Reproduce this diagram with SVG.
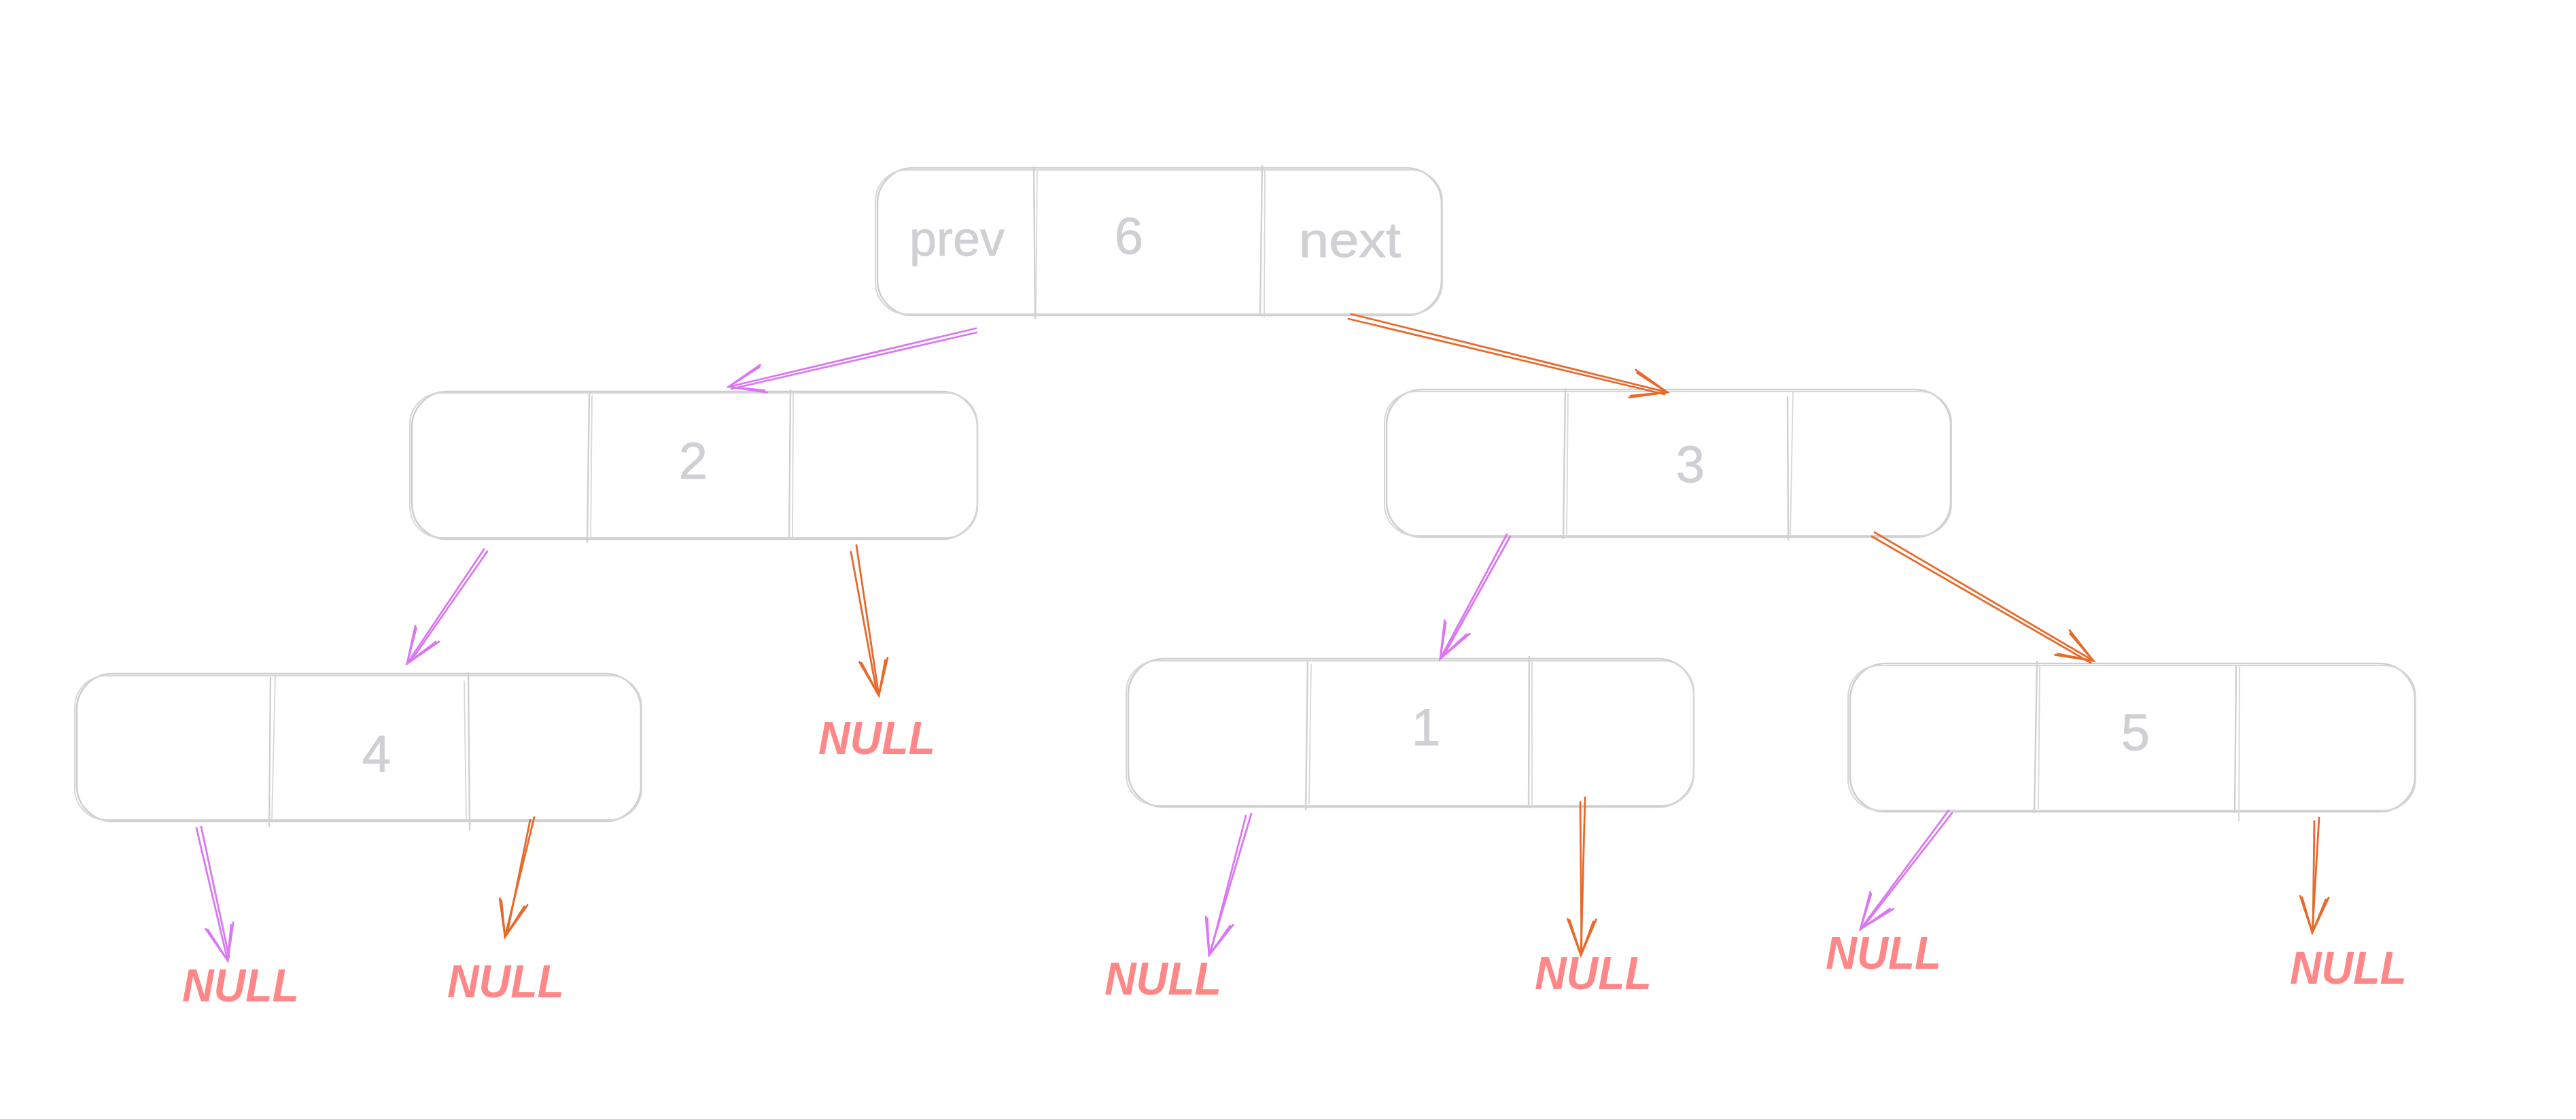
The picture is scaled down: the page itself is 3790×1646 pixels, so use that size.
<svg xmlns="http://www.w3.org/2000/svg" width="3790" height="1646" viewBox="0 0 3790 1646">
<style>
.bg{fill:#ffffff}
.box{fill:none;stroke:#cfcfcf;stroke-width:2.6}
.box2{fill:none;stroke:#d7d7d7;stroke-width:2}
.dv{stroke:#d0d0d0;stroke-width:2.4}
.dv2{stroke:#d8d8d8;stroke-width:1.8}
.val{font-family:"Liberation Sans",Arial,sans-serif;font-size:76px;fill:#d0cfd3;stroke:#d0cfd3;stroke-width:0.8;text-anchor:middle}
.word{font-family:"Liberation Sans",Arial,sans-serif;font-size:72px;fill:#d0cfd3;stroke:#d0cfd3;stroke-width:0.8;text-anchor:middle}
.null{font-family:"Liberation Sans",Arial,sans-serif;font-size:68px;font-weight:bold;font-style:italic;fill:#ff8787;text-anchor:middle}
.pink{fill:none;stroke:#da77f2;stroke-width:2.8;stroke-linecap:round}
.orange{fill:none;stroke:#e8692a;stroke-width:2.8;stroke-linecap:round}
</style>
<defs>
<marker id="headPink" viewBox="-60 -30 70 60" markerWidth="70" markerHeight="60" refX="0" refY="0" orient="auto" markerUnits="userSpaceOnUse">
<path d="M -53 -21 L 0 0 L -53 21 M -50 -17 L 0 0 L -51 18" fill="none" stroke="#da77f2" stroke-width="2.8" stroke-linecap="round"/>
</marker>
<marker id="headOrange" viewBox="-60 -30 70 60" markerWidth="70" markerHeight="60" refX="0" refY="0" orient="auto" markerUnits="userSpaceOnUse">
<path d="M -53 -21 L 0 0 L -53 21 M -50 -17 L 0 0 L -51 18" fill="none" stroke="#e8692a" stroke-width="2.8" stroke-linecap="round"/>
</marker>
</defs>
<rect class="bg" x="0" y="0" width="3790" height="1646"/>

<g id="node-6" transform="translate(1291,247)">
<rect class="box" x="0" y="0" width="830" height="217" rx="52"/>
<rect class="box2" x="-3" y="3" width="834" height="212" rx="46"/>
<line class="dv" x1="230" y1="-2" x2="232" y2="222"/>
<line class="dv2" x1="235" y1="4" x2="233" y2="214"/>
<line class="dv" x1="566" y1="-4" x2="563" y2="216"/>
<line class="dv2" x1="570" y1="3" x2="569" y2="220"/>
<text class="word" x="117" y="129" textLength="140" lengthAdjust="spacingAndGlyphs">prev</text>
<text class="val" x="370" y="126">6</text>
<text class="word" x="695" y="131" textLength="150" lengthAdjust="spacingAndGlyphs">next</text>
</g>

<g id="node-2" transform="translate(606,576)">
<rect class="box" x="0" y="0" width="832" height="217" rx="52"/>
<rect class="box2" x="-3" y="2" width="835" height="213" rx="46"/>
<line class="dv" x1="261" y1="-1" x2="258" y2="222"/>
<line class="dv2" x1="265" y1="5" x2="263" y2="215"/>
<line class="dv" x1="557" y1="-3" x2="555" y2="218"/>
<line class="dv2" x1="561" y1="3" x2="560" y2="214"/>
<text class="val" x="414" y="128">2</text>
</g>

<g id="node-3" transform="translate(2040,573)">
<rect class="box" x="0" y="0" width="830" height="217" rx="52"/>
<rect class="box2" x="-3" y="3" width="834" height="212" rx="46"/>
<line class="dv" x1="263" y1="-2" x2="260" y2="220"/>
<line class="dv2" x1="267" y1="5" x2="265" y2="214"/>
<line class="dv" x1="590" y1="10" x2="591" y2="222"/>
<line class="dv2" x1="598" y1="3" x2="594" y2="215"/>
<text class="val" x="447" y="136">3</text>
</g>

<g id="node-4" transform="translate(113,991)">
<rect class="box" x="0" y="0" width="830" height="217" rx="52"/>
<rect class="box2" x="-3" y="3" width="834" height="212" rx="46"/>
<line class="dv" x1="285" y1="5" x2="283" y2="225"/>
<line class="dv2" x1="292" y1="3" x2="287" y2="215"/>
<line class="dv" x1="576" y1="-2" x2="578" y2="230"/>
<line class="dv2" x1="570" y1="10" x2="573" y2="215"/>
<text class="val" x="441" y="144">4</text>
</g>

<g id="node-1" transform="translate(1660,969)">
<rect class="box" x="0" y="0" width="832" height="218" rx="52"/>
<rect class="box2" x="-3" y="3" width="835" height="213" rx="46"/>
<line class="dv" x1="264" y1="3" x2="261" y2="223"/>
<line class="dv2" x1="269" y1="8" x2="266" y2="214"/>
<line class="dv" x1="590" y1="-4" x2="589" y2="220"/>
<line class="dv2" x1="594" y1="4" x2="594" y2="216"/>
<text class="val" x="438" y="127">1</text>
</g>

<g id="node-5" transform="translate(2722,976)">
<rect class="box" x="0" y="0" width="831" height="218" rx="52"/>
<rect class="box2" x="-3" y="3" width="835" height="213" rx="46"/>
<line class="dv" x1="275" y1="-4" x2="271" y2="220"/>
<line class="dv2" x1="279" y1="4" x2="277" y2="214"/>
<line class="dv" x1="568" y1="2" x2="566" y2="220"/>
<line class="dv2" x1="573" y1="4" x2="572" y2="232"/>
<text class="val" x="420" y="127">5</text>
</g>

<g id="null-labels">
<text id="null-2-next" class="null" x="1290" y="1109" textLength="172" lengthAdjust="spacingAndGlyphs">NULL</text>
<text id="null-4-prev" class="null" x="354" y="1473" textLength="172" lengthAdjust="spacingAndGlyphs">NULL</text>
<text id="null-4-next" class="null" x="744" y="1467" textLength="172" lengthAdjust="spacingAndGlyphs">NULL</text>
<text id="null-1-prev" class="null" x="1711" y="1463" textLength="172" lengthAdjust="spacingAndGlyphs">NULL</text>
<text id="null-1-next" class="null" x="2344" y="1455" textLength="172" lengthAdjust="spacingAndGlyphs">NULL</text>
<text id="null-5-prev" class="null" x="2771" y="1425" textLength="170" lengthAdjust="spacingAndGlyphs">NULL</text>
<text id="null-5-next" class="null" x="3455" y="1447" textLength="172" lengthAdjust="spacingAndGlyphs">NULL</text>
</g>

<g id="connectors">
<path class="pink" d="M1436 483 L1072 569" marker-end="url(#headPink)"/>
<path class="pink" d="M1437 489 L1076 572"/>
<path class="orange" d="M1988 462 L2453 577" marker-end="url(#headOrange)"/>
<path class="orange" d="M1984 469 L2449 580"/>
<path class="pink" d="M712 808 L599 976" marker-end="url(#headPink)"/>
<path class="pink" d="M717 811 L604 973"/>
<path class="orange" d="M1260 802 L1293 1023" marker-end="url(#headOrange)"/>
<path class="orange" d="M1252 812 L1290 1019"/>
<path class="pink" d="M289 1218 L335 1413" marker-end="url(#headPink)"/>
<path class="pink" d="M296 1216 L337 1408"/>
<path class="orange" d="M786 1202 L743 1378" marker-end="url(#headOrange)"/>
<path class="orange" d="M780 1206 L746 1374"/>
<path class="pink" d="M2217 786 L2119 969" marker-end="url(#headPink)"/>
<path class="pink" d="M2222 789 L2123 966"/>
<path class="orange" d="M2758 783 L3080 972" marker-end="url(#headOrange)"/>
<path class="orange" d="M2754 789 L3076 975"/>
<path class="pink" d="M1841 1197 L1779 1405" marker-end="url(#headPink)"/>
<path class="pink" d="M1833 1200 L1781 1401"/>
<path class="orange" d="M2332 1173 L2326 1405" marker-end="url(#headOrange)"/>
<path class="orange" d="M2325 1180 L2327 1400"/>
<path class="pink" d="M2867 1192 L2737 1367" marker-end="url(#headPink)"/>
<path class="pink" d="M2872 1196 L2741 1364"/>
<path class="orange" d="M3412 1203 L3402 1372" marker-end="url(#headOrange)"/>
<path class="orange" d="M3405 1208 L3403 1368"/>
</g>
</svg>
